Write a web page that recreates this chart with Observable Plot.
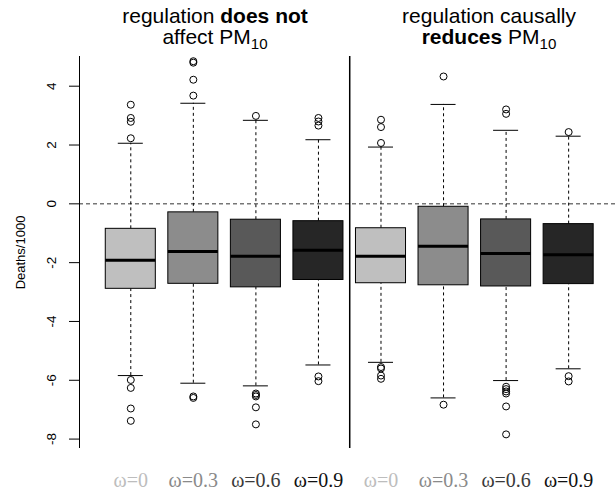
<!DOCTYPE html>
<html><head><meta charset="utf-8">
<script src="https://cdn.jsdelivr.net/npm/d3@7"></script>
<script src="https://cdn.jsdelivr.net/npm/@observablehq/plot@0.6"></script>
<style>
body{margin:0;background:#fff}
#wrap{position:relative;width:616px;height:493px;overflow:hidden}
.t{position:absolute;top:5px;font-family:"Liberation Sans",Arial,sans-serif;font-size:21px;line-height:21px;text-align:center;transform:translateX(-50%);white-space:nowrap;color:#000}
.t sub{font-size:0.72em;vertical-align:-0.3em;line-height:0}
</style>
</head><body><div id="wrap"></div>
<script>
// ---- data ----
const labels = ["ω=0","ω=0.3","ω=0.6","ω=0.9","ω=0","ω=0.3","ω=0.6","ω=0.9"];
const positions = [1,2,3,4,5,6,7,8];
const q1  = [-2.89,-2.72,-2.84,-2.59,-2.70,-2.77,-2.81,-2.73];
const med = [-1.92,-1.62,-1.78,-1.58,-1.78,-1.44,-1.69,-1.73];
const q3  = [-0.85,-0.29,-0.54,-0.59,-0.83,-0.10,-0.53,-0.69];
const whiskLo = [-5.84,-6.10,-6.19,-5.48,-5.39,-6.60,-6.01,-5.61];
const whiskHi = [2.06,3.42,2.84,2.18,1.93,3.38,2.50,2.30];
const outliers = [
  [3.37,2.92,2.79,2.23,-5.99,-6.26,-6.96,-7.38],
  [4.85,4.80,4.22,3.68,-6.55,-6.60],
  [2.99,-6.45,-6.50,-6.55,-6.92,-7.50],
  [2.92,2.80,2.66,-5.87,-6.03],
  [2.86,2.61,2.07,-5.55,-5.60,-5.84,-5.95],
  [4.33,-6.83],
  [3.21,3.06,-6.22,-6.30,-6.38,-6.45,-6.89,-7.84],
  [2.44,-5.86,-6.04]
];
const yTicks = [-8,-6,-4,-2,0,2,4];
const yTickLabels = ["-8","-6","-4","-2","0","2","4"];
const yLabel = "Deaths/1000";

// ---- styles ----
const fills = ["#bfbfbf","#8c8c8c","#595959","#262626","#bfbfbf","#8c8c8c","#595959","#262626"];
const textFills = ["#bdbdbd","#8a8a8a","#3a3a3a","#111111","#bdbdbd","#8a8a8a","#3a3a3a","#111111"];

const idx = d3.range(positions.length);
const outPts = idx.flatMap(i => outliers[i].map(v => ({x: positions[i], y: v})));
const xDomain = [0.18, 8.765];

const plot = Plot.plot({
  width: 616, height: 493,
  marginLeft: 79, marginRight: 0, marginTop: 56, marginBottom: 45,
  x: {type: "linear", domain: xDomain, axis: null},
  y: {domain: [-8.32, 5.01], axis: null},
  marks: [
    Plot.ruleY([0], {stroke: "#333", strokeDasharray: "4,3", strokeWidth: 1}),
    Plot.ruleX([4.5], {stroke: "#000", strokeWidth: 1.5}),
    Plot.ruleX([xDomain[0]], {stroke: "#000", strokeWidth: 1}),
    Plot.axisY({ticks: yTicks, tickSize: 10, tickFormat: () => "", label: null}),
    Plot.text(idx.slice(0, yTicks.length), {y: i => yTicks[i], text: i => yTickLabels[i], frameAnchor: "left", dx: -28, rotate: -90, textAnchor: "middle", lineAnchor: "middle", fontSize: 13.5, fontFamily: "Liberation Sans, Arial, sans-serif", fill: "#000"}),
    Plot.text([yLabel], {text: d => d, frameAnchor: "left", dx: -59, rotate: -90, textAnchor: "middle", lineAnchor: "middle", fontSize: 13, fontFamily: "Liberation Sans, Arial, sans-serif", fill: "#000"}),
    // whiskers
    Plot.ruleX(idx, {x: i => positions[i], y1: i => q3[i], y2: i => whiskHi[i], stroke: "#000", strokeDasharray: "3,3"}),
    Plot.ruleX(idx, {x: i => positions[i], y1: i => whiskLo[i], y2: i => q1[i], stroke: "#000", strokeDasharray: "3,3"}),
    Plot.ruleY(idx, {y: i => whiskHi[i], x1: i => positions[i] - 0.2, x2: i => positions[i] + 0.2, stroke: "#000"}),
    Plot.ruleY(idx, {y: i => whiskLo[i], x1: i => positions[i] - 0.2, x2: i => positions[i] + 0.2, stroke: "#000"}),
    // boxes
    Plot.rect(idx, {x1: i => positions[i] - 0.4, x2: i => positions[i] + 0.4, y1: i => q1[i], y2: i => q3[i], fill: i => fills[i], stroke: "#000", strokeWidth: 1}),
    Plot.ruleY(idx, {y: i => med[i], x1: i => positions[i] - 0.4, x2: i => positions[i] + 0.4, stroke: "#000", strokeWidth: 3}),
    // outliers
    Plot.dot(outPts, {x: "x", y: "y", r: 3.5, stroke: "#000", fill: "none", strokeWidth: 1}),
    // category labels
    Plot.text(idx, {x: i => positions[i], text: i => labels[i], frameAnchor: "bottom", dy: 32, lineAnchor: "middle", fill: i => textFills[i], fontSize: 20, fontFamily: "Liberation Serif, Times New Roman, serif"})
  ]
});
plot.style.overflow = "visible";
const wrap = document.getElementById("wrap");
wrap.appendChild(plot);
const t1 = document.createElement("div");
t1.className = "t"; t1.style.left = "215px";
t1.innerHTML = "regulation <b>does not</b><br>affect PM<sub>10</sub>";
const t2 = document.createElement("div");
t2.className = "t"; t2.style.left = "489px";
t2.innerHTML = "regulation causally<br><b>reduces</b> PM<sub>10</sub>";
wrap.appendChild(t1); wrap.appendChild(t2);
</script>
</body></html>
